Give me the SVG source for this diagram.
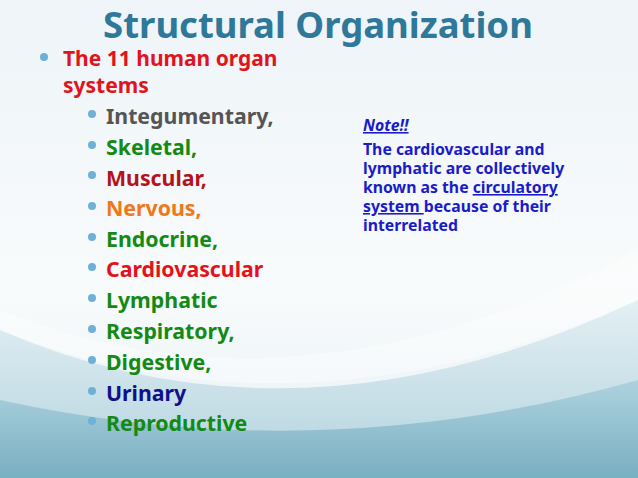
<svg xmlns="http://www.w3.org/2000/svg" width="638" height="478" viewBox="0 0 638 478">
<defs>
<linearGradient id="bg" x1="0" y1="0" x2="0" y2="1">
<stop offset="0" stop-color="#eef4f8"/><stop offset="0.6" stop-color="#f8fbfc"/><stop offset="1" stop-color="#e6f0f4"/>
</linearGradient>
<linearGradient id="w1" x1="0" y1="0" x2="0" y2="1">
<stop offset="0" stop-color="#d6e8ee"/><stop offset="1" stop-color="#8fbfcf"/>
</linearGradient>
<linearGradient id="w2" x1="0" y1="0" x2="0" y2="1">
<stop offset="0" stop-color="#a6cedb"/><stop offset="1" stop-color="#6aa6bb"/>
</linearGradient>
<style>
text{font-family:"Noto Sans","Open Sans","DejaVu Sans",sans-serif;font-weight:bold}
.b{fill:#6fb0d6}
.l2{font-size:21.3px}
.g{fill:#138a13}
.n{font-size:15.8px;fill:#1b1bc8}
</style>
</defs>
<rect width="638" height="478" fill="url(#bg)"/>
<path d="M0 330 Q300 460 638 300 L638 478 L0 478Z" fill="url(#w1)" opacity="0.6"/>
<path d="M0 400 Q320 470 638 380 L638 478 L0 478Z" fill="url(#w2)" opacity="0.8"/>
<path d="M0 310 Q300 430 638 250 L638 300 Q300 450 0 330Z" fill="#ffffff" opacity="0.4"/>
<text x="318" y="38" text-anchor="middle" font-size="36.5" fill="#2f7899">Structural Organization</text>
<g id="main">
<circle class="b" cx="44" cy="57" r="4"/>
<text x="63" y="66" font-size="21" fill="#e0141c">The 11 human organ</text>
<text x="63" y="93" font-size="21" fill="#e0141c">systems</text>
</g>
<g id="list">
<circle class="b" cx="92" cy="114" r="4"/><text class="l2" x="106" y="124" fill="#555555">Integumentary,</text>
<circle class="b" cx="92" cy="145" r="4"/><text class="l2 g" x="106" y="155">Skeletal,</text>
<circle class="b" cx="92" cy="175" r="4"/><text class="l2" x="106" y="186" fill="#b5121b">Muscular,</text>
<circle class="b" cx="92" cy="206" r="4"/><text class="l2" x="106" y="216" fill="#f07818">Nervous,</text>
<circle class="b" cx="92" cy="237" r="4"/><text class="l2 g" x="106" y="247">Endocrine,</text>
<circle class="b" cx="92" cy="267" r="4"/><text class="l2" x="106" y="277" fill="#e4121a">Cardiovascular</text>
<circle class="b" cx="92" cy="298" r="4"/><text class="l2 g" x="106" y="308">Lymphatic</text>
<circle class="b" cx="92" cy="329" r="4"/><text class="l2 g" x="106" y="339">Respiratory,</text>
<circle class="b" cx="92" cy="360" r="4"/><text class="l2 g" x="106" y="370">Digestive,</text>
<circle class="b" cx="92" cy="391" r="4"/><text class="l2" x="106" y="401" fill="#10108c">Urinary</text>
<circle class="b" cx="92" cy="421" r="4"/><text class="l2 g" x="106" y="431">Reproductive</text>
</g>
<g id="note">
<text class="n" x="363" y="131" font-style="italic" text-decoration="underline">Note!!</text>
<text class="n" x="363" y="155">The cardiovascular and</text>
<text class="n" x="363" y="174">lymphatic are collectively</text>
<text class="n" x="363" y="193">known as the <tspan text-decoration="underline">circulatory</tspan></text>
<text class="n" x="363" y="212"><tspan text-decoration="underline">system </tspan>because of their</text>
<text class="n" x="363" y="231">interrelated</text>
</g>
</svg>
